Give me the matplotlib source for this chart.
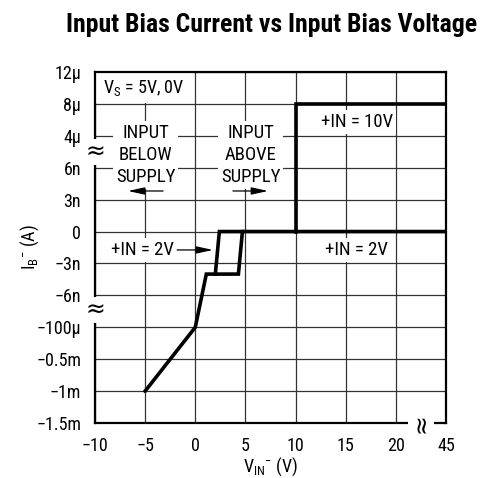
import numpy as np
import matplotlib.pyplot as plt
from matplotlib.patches import Rectangle

plt.rcParams['font.family'] = ['Roboto Condensed', 'DejaVu Sans']
plt.rcParams['mathtext.fontset'] = 'custom'
plt.rcParams['mathtext.rm'] = 'Roboto Condensed'

# axis ticks (broken axes -> evenly spaced ticks)
x_ticks = [-10, -5, 0, 5, 10, 15, 20, 45]
x_labels = ['\u221210', '\u22125', '0', '5', '10', '15', '20', '45']
y_ticks = [-1.5e-3, -1e-3, -0.5e-3, -100e-6, -6e-9, -3e-9, 0, 3e-9, 6e-9, 4e-6, 8e-6, 12e-6]
y_labels = ['\u22121.5m', '\u22121m', '\u22120.5m', '\u2212100\u00b5', '\u22126n', '\u22123n',
            '0', '3n', '6n', '4\u00b5', '8\u00b5', '12\u00b5']

# +IN = 2V (hysteresis loop)
vin_2v = [-5, 0, 1.1, 4.3, 4.7, 45]
ib_2v = [-1e-3, -100e-6, -4e-9, -4e-9, 0, 0]
vin_2v_b = [2.0, 2.4, 4.7]
ib_2v_b = [-4e-9, 0, 0]
# +IN = 10V
vin_10v = [10, 10, 45]
ib_10v = [0, 8e-6, 8e-6]

xi = np.arange(len(x_ticks))
yi = np.arange(len(y_ticks))


def fx(v):
    return np.interp(v, x_ticks, xi)


def fx_inv(p):
    return np.interp(p, xi, x_ticks)


def fy(v):
    return np.interp(v, y_ticks, yi)


def fy_inv(p):
    return np.interp(p, yi, y_ticks)


fig = plt.figure(figsize=(4.85, 4.78), dpi=100)
ax = fig.add_axes([95 / 485, 55 / 478, 351 / 485, 351 / 478])
ax.set_xscale('function', functions=(fx, fx_inv))
ax.set_yscale('function', functions=(fy, fy_inv))

ax.plot(vin_2v, ib_2v, color='black', lw=2.6, solid_joinstyle='miter', zorder=3)
ax.plot(vin_2v_b, ib_2v_b, color='black', lw=2.6, solid_joinstyle='miter', zorder=3)
ax.plot(vin_10v, ib_10v, color='black', lw=2.6, solid_joinstyle='miter', zorder=3)

ax.set_xlim(-10, 45)
ax.set_ylim(-1.5e-3, 12e-6)
ax.set_xticks(x_ticks, x_labels, fontsize=13)
ax.set_yticks(y_ticks, y_labels, fontsize=13)
ax.minorticks_off()
ax.tick_params(length=0)
ax.tick_params(axis='y', pad=10)
ax.tick_params(axis='x', pad=10)
ax.grid(True, color='#333333', lw=0.9)
for s in ax.spines.values():
    s.set_linewidth(1.6)

ax.set_xlabel(r'V$_\mathregular{IN}$$^\mathregular{-}$ (V)', fontsize=13)
ax.xaxis.set_label_coords(0.5, -0.093)
ax.set_ylabel(r'I$_\mathregular{B}$$^\mathregular{-}$ (A)', fontsize=13)
ax.yaxis.set_label_coords(-0.155, 0.5)

fig.text(0.56, 0.948, 'Input Bias Current vs Input Bias Voltage', ha='center', va='center',
         fontsize=18.5, fontweight='bold')

# supply label box in top-left cell
ax.add_patch(Rectangle((0, 10 / 11 + 0.004), 2 / 7 - 0.004, 1 / 11 - 0.004,
                       transform=ax.transAxes, facecolor='white', edgecolor='none', zorder=2))
ax.text(0.023, 0.953, r'V$_\mathregular{S}$ = 5V, 0V', transform=ax.transAxes,
        ha='left', va='center', fontsize=13, zorder=4)

box = dict(facecolor='white', edgecolor='none', pad=2)
ax.text(0.145, 0.764, 'INPUT\nBELOW\nSUPPLY', transform=ax.transAxes, ha='center', va='center',
        fontsize=13.5, linespacing=1.3, bbox=box, zorder=4)
ax.text(0.444, 0.764, 'INPUT\nABOVE\nSUPPLY', transform=ax.transAxes, ha='center', va='center',
        fontsize=13.5, linespacing=1.3, bbox=box, zorder=4)
ax.text(0.746, 0.858, '+IN = 10V', transform=ax.transAxes, ha='center', va='center',
        fontsize=13.5, bbox=box, zorder=4)
ax.text(0.746, 0.493, '+IN = 2V', transform=ax.transAxes, ha='center', va='center',
        fontsize=13.5, bbox=box, zorder=4)
ax.text(0.135, 0.493, '+IN = 2V', transform=ax.transAxes, ha='center', va='center',
        fontsize=13.5, bbox=box, zorder=4)

arrow = dict(arrowstyle='-|>,head_length=1.0,head_width=0.22', color='black', lw=0.9,
             shrinkA=0, shrinkB=0, mutation_scale=10)
for x0, x1, y in [(0.194, 0.094, 0.661), (0.393, 0.493, 0.661), (0.234, 0.336, 0.493)]:
    ax.annotate('', xy=(x1, y), xytext=(x0, y), xycoords='axes fraction',
                textcoords='axes fraction', arrowprops=arrow, zorder=4)

# axis break marks
brk = dict(facecolor='white', edgecolor='none', pad=0.5)
for y in [0.772, 0.322]:
    ax.text(0, y, '\u2248', transform=ax.transAxes, ha='center', va='center', fontsize=17,
            family='DejaVu Sans', bbox=brk, clip_on=False, zorder=5)
ax.text(0.929, 0, '\u2248', transform=ax.transAxes, ha='center', va='center', fontsize=17,
        family='DejaVu Sans', rotation=90, bbox=brk, clip_on=False, zorder=5)

fig.savefig('out.png', dpi=100)
